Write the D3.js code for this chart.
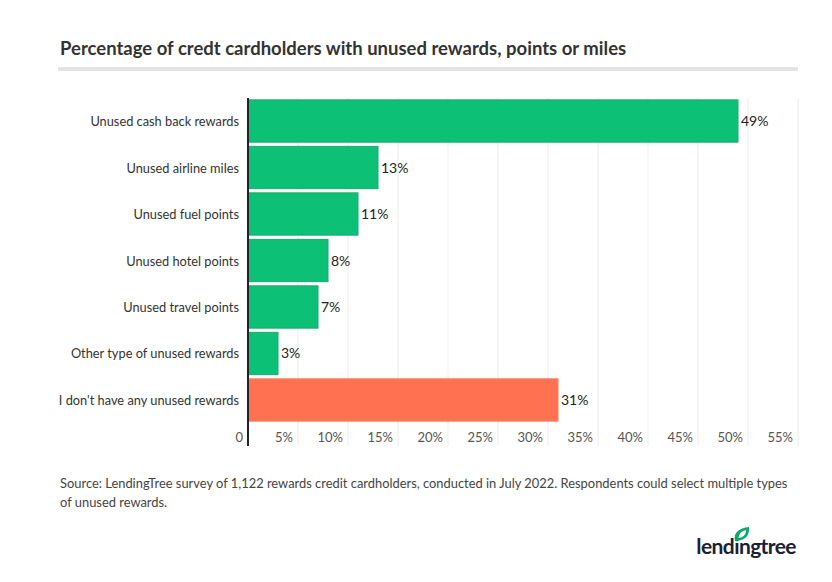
<!DOCTYPE html>
<html>
<head>
<meta charset="utf-8">
<script src="https://cdn.jsdelivr.net/npm/d3@7"></script>
<style>
  body { margin: 0; background: #fff; }
  svg { display: block; font-family: Lato, "Open Sans", sans-serif; }
</style>
</head>
<body>
<div id="chart"></div>
<script>
const categories = [
  "Unused cash back rewards",
  "Unused airline miles",
  "Unused fuel points",
  "Unused hotel points",
  "Unused travel points",
  "Other type of unused rewards",
  "I don't have any unused rewards"
]
const values = [49, 13, 11, 8, 7, 3, 31]
const highlight = [false, false, false, false, false, false, true]
const ticks = [0, 5, 10, 15, 20, 25, 30, 35, 40, 45, 50, 55]

const width = 832, height = 582
const margin = {top: 98, right: 34, bottom: 160, left: 248}

const svg = d3.select("#chart").append("svg")
  .attr("width", width)
  .attr("height", height)

// title
svg.append("text")
  .attr("x", 60)
  .attr("y", 55)
  .attr("font-size", 18.5)
  .attr("font-weight", "bold")
  .attr("fill", "#333")
  .text("Percentage of credt cardholders with unused rewards, points or miles")

svg.append("rect")
  .attr("x", 58)
  .attr("y", 67)
  .attr("width", 740)
  .attr("height", 4)
  .attr("fill", "#e3e3e3")

const x = d3.scaleLinear()
  .domain([0, 55])
  .range([margin.left, width - margin.right])

const y = d3.scaleBand()
  .domain(categories)
  .range([margin.top, margin.top + 325])
  .paddingInner(0.09)
  .paddingOuter(0.04)

// gridlines
svg.append("g")
  .selectAll("line")
  .data(ticks.slice(1))
  .join("line")
  .attr("x1", d => x(d))
  .attr("x2", d => x(d))
  .attr("y1", margin.top)
  .attr("y2", 446)
  .attr("stroke", "#ececec")
  .attr("stroke-width", 1)

// tick labels
svg.append("g")
  .selectAll("text")
  .data(ticks)
  .join("text")
  .attr("x", d => x(d) - 5)
  .attr("y", 442)
  .attr("text-anchor", "end")
  .attr("font-size", 13)
  .attr("fill", "#555")
  .text(d => d === 0 ? "0" : d + "%")

// bars
svg.append("g")
  .selectAll("rect")
  .data(values)
  .join("rect")
  .attr("x", x(0))
  .attr("y", (d, i) => y(categories[i]))
  .attr("width", d => x(d) - x(0))
  .attr("height", y.bandwidth())
  .attr("fill", (d, i) => highlight[i] ? "#ff7150" : "#0cc176")
  .attr("stroke", (d, i) => highlight[i] ? "#f0805f" : "#1aaa6e")
  .attr("stroke-width", 1)

// value labels
svg.append("g")
  .selectAll("text")
  .data(values)
  .join("text")
  .attr("x", d => x(d) + 3)
  .attr("y", (d, i) => y(categories[i]) + y.bandwidth() / 2 + 5)
  .attr("font-size", 14)
  .attr("fill", "#222")
  .text(d => d + "%")

// category labels
svg.append("g")
  .selectAll("text")
  .data(categories)
  .join("text")
  .attr("x", margin.left - 9)
  .attr("y", d => y(d) + y.bandwidth() / 2 + 5)
  .attr("text-anchor", "end")
  .attr("font-size", 12.8)
  .attr("fill", "#333")
  .text(d => d)

// axis line
svg.append("line")
  .attr("x1", x(0))
  .attr("x2", x(0))
  .attr("y1", margin.top)
  .attr("y2", 446)
  .attr("stroke", "#222")
  .attr("stroke-width", 2)

// source
const source = svg.append("text")
  .attr("font-size", 12.9)
  .attr("fill", "#444")
source.append("tspan")
  .attr("x", 60).attr("y", 488)
  .text("Source: LendingTree survey of 1,122 rewards credit cardholders, conducted in July 2022. Respondents could select multiple types")
source.append("tspan")
  .attr("x", 60).attr("y", 507)
  .text("of unused rewards.")

// logo
svg.append("text")
  .attr("x", 796)
  .attr("y", 554)
  .attr("text-anchor", "end")
  .attr("font-size", 21)
  .attr("font-weight", "bold")
  .attr("letter-spacing", -0.6)
  .attr("fill", "#1c2033")
  .text("lendingtree")
const logo = svg.append("g")
logo.append("path")
  .attr("d", "M735,541 C733,533 739,528 749,527 C750,536 744,541 735,541 Z")
  .attr("fill", "#0aa869")
logo.append("path")
  .attr("d", "M738.5,538 C739,533 742,531 746,530 C746,535 743,537.5 738.5,538 Z")
  .attr("fill", "#fff")
</script>
</body>
</html>
